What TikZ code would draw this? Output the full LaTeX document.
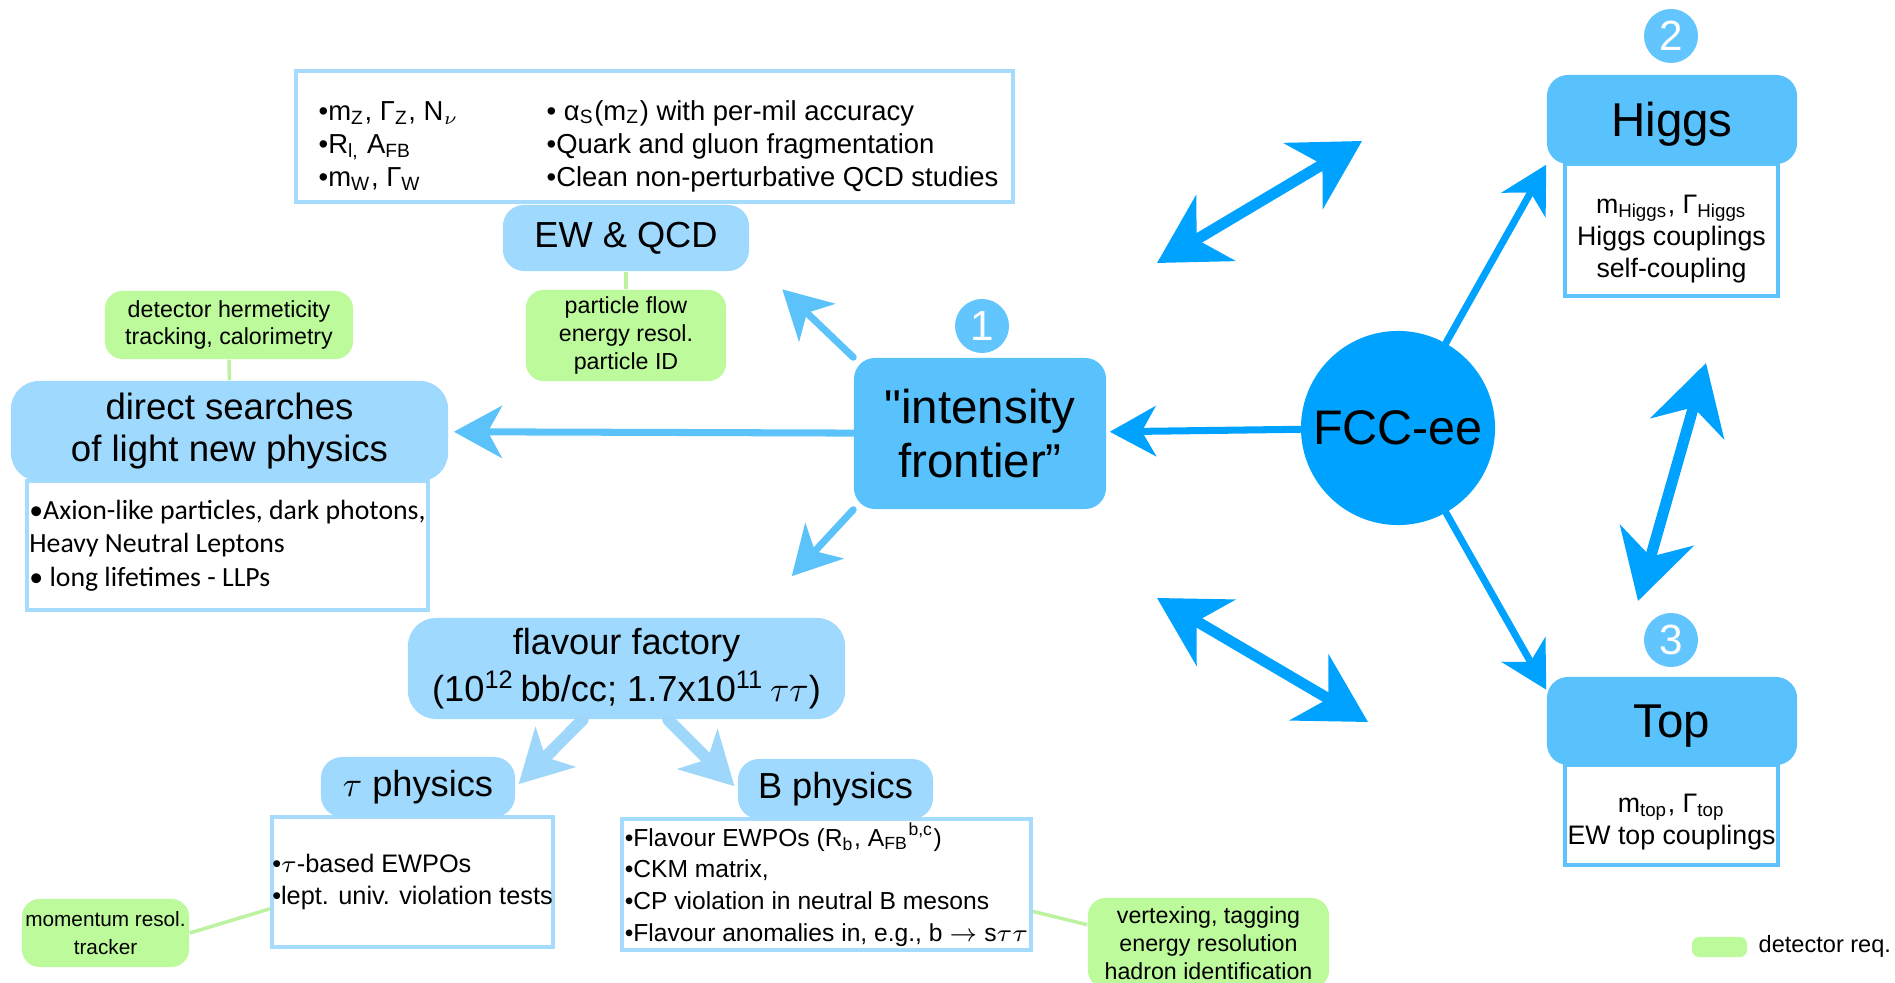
\documentclass[tikz,border=0pt]{standalone}
\usepackage{fontspec}
\setmainfont{Liberation Sans}[Ligatures=TeXOff]
\newfontfamily\calib{Carlito}
\usetikzlibrary{arrows.meta,calc}
\definecolor{hdrlight}{HTML}{9FD9FD}
\definecolor{hdrmid}{HTML}{59C1FC}
\definecolor{fccblue}{HTML}{00A2FF}
\definecolor{numblue}{HTML}{63C5FD}
\definecolor{reqgreen}{HTML}{BDFA9B}
\definecolor{reqline}{HTML}{BDF2A0}
\definecolor{boxline}{HTML}{A5DBFC}
\definecolor{boxlinemid}{HTML}{5EC3FC}
\definecolor{arrmid}{HTML}{5BC2FA}
\definecolor{arrlight}{HTML}{9FD7FA}
\begin{document}
\begin{tikzpicture}[x=0.01cm,y=-0.01cm,
	hdr/.style={rectangle,rounded corners=6pt,fill=hdrlight,inner sep=0pt,align=center,font=\fontsize{10.3}{12.5}\selectfont},
	hdrbig/.style={hdr,fill=hdrmid,font=\fontsize{13.5}{15.4}\selectfont},
	infobox/.style={rectangle,draw=boxline,line width=1pt,fill=white,inner sep=0pt,align=left,font=\fontsize{7}{9}\selectfont},
	subtext/.style={inner sep=0pt,align=center,font=\fontsize{7.6}{9}\selectfont},
	req/.style={rectangle,rounded corners=5pt,fill=reqgreen,inner sep=0pt,align=center,font=\fontsize{6.6}{7.9}\selectfont},
	num/.style={circle,fill=numblue,text=white,minimum size=0.54cm,inner sep=0pt,font=\fontsize{12}{12}\selectfont},
	reqlink/.style={draw=reqline,line width=1pt},
	arrint/.style={-{Stealth[length=0.48cm,width=0.52cm,inset=0.14cm]},line width=2pt,draw=arrmid,line cap=round},
	arrfcc/.style={-{Stealth[length=0.46cm,width=0.5cm,inset=0.14cm]},line width=2pt,draw=fccblue,line cap=round},
	arrflav/.style={-{Stealth[length=0.52cm,width=0.56cm,inset=0.14cm]},line width=3.4pt,draw=arrlight,line cap=round},
	arrboth/.style={{Stealth[length=0.68cm,width=0.76cm,inset=0.22cm]}-{Stealth[length=0.68cm,width=0.76cm,inset=0.22cm]},line width=0.11cm,draw=fccblue,line cap=round}]
		\clip (0,0) rectangle (1895,983);
		
		%EW and QCD
		\node[infobox,minimum width=7.17cm,minimum height=1.31cm](ewbox) at (654.5,136.5) {};
		\node[anchor=west,align=left,inner sep=0pt,font=\fontsize{7.8}{9.4}\selectfont](ewl) at (318,146) {•m\textsubscript{Z}, Γ\textsubscript{Z}, N$_{\nu}$\\•R\textsubscript{l,} A\textsubscript{FB}\\•m\textsubscript{W}, Γ\textsubscript{W}};
		\node[anchor=west,align=left,inner sep=0pt,font=\fontsize{7.8}{9.4}\selectfont](ewr) at (546,146) {• α\textsubscript{S}(m\textsubscript{Z}) with per-mil accuracy\\•Quark and gluon fragmentation\\•Clean non-perturbative QCD studies};
		\node[hdr,minimum width=2.46cm,minimum height=0.66cm](ewqcd) at (626,238) {EW \& QCD};
		\node[req,minimum width=2cm,minimum height=0.91cm](pflow) at (626,335.5) {particle flow\\energy resol.\\particle ID};
		\draw[reqlink] (ewqcd.south) -- (pflow.north);
		
		%direct searches
		\node[req,minimum width=2.48cm,minimum height=0.68cm](herm) at (229,325) {detector hermeticity\\tracking, calorimetry};
		\node[infobox,font=\calib\fontsize{7.9}{9.5}\selectfont,minimum width=4.01cm,minimum height=1.29cm](axion) at (227.5,545.5) {•Axion-like particles, dark photons,\\Heavy Neutral Leptons\\• long lifetimes - LLPs};
		\node[hdr,rounded corners=8pt,minimum width=4.37cm,minimum height=1cm,font=\fontsize{10.4}{12}\selectfont](direct) at (229.5,431) {direct searches\\of light new physics};
		\draw[reqlink] (herm.south) -- (direct.north);
		
		%centre
		\node[hdrbig,minimum width=2.52cm,minimum height=1.51cm](intens) at (980,433.5) {"intensity\\frontier”};
		\node[num](one) at (982,326) {1};
		\node[circle,fill=fccblue,minimum size=1.94cm,inner sep=0pt,font=\fontsize{13.8}{14}\selectfont](fcc) at (1398,428) {FCC-ee};
		
		%Higgs
		\node[infobox,draw=boxlinemid,minimum width=2.13cm,minimum height=1.32cm](higgsbox) at (1671.5,230) {};
		\node[subtext](higgstext) at (1671.5,239) {m\textsubscript{Higgs}, Γ\textsubscript{Higgs}\\Higgs couplings\\self-coupling};
		\node[hdrbig,text depth=0pt,minimum width=2.5cm,minimum height=0.89cm](higgs) at (1672,119.5) {Higgs};
		\node[num](two) at (1671,36) {2};
		
		%Top
		\node[infobox,draw=boxlinemid,minimum width=2.13cm,minimum height=1cm](topbox) at (1671.5,815) {};
		\node[subtext](toptext) at (1671.5,822) {m\textsubscript{top}, Γ\textsubscript{top}\\EW top couplings};
		\node[hdrbig,text depth=0pt,minimum width=2.5cm,minimum height=0.88cm](top) at (1672,721) {Top};
		\node[num](three) at (1671,640) {3};
		
		%flavour
		\node[hdr,rounded corners=8pt,minimum width=4.37cm,minimum height=1.01cm,font=\fontsize{10.3}{13.5}\selectfont](flav) at (626.5,668.5) {flavour factory\\(10\textsuperscript{12}\,bb/cc; 1.7x10\textsuperscript{11}\,$\tau\tau$)};
		\node[infobox,font=\fontsize{7.2}{9.1}\selectfont,minimum width=2.81cm,minimum height=1.3cm](taubox) at (412.5,882) {•$\tau$-based EWPOs\\•lept. univ. violation tests};
		\node[hdr,minimum width=1.94cm,minimum height=0.6cm](tau) at (418,787) {$\tau$ physics};
		\node[infobox,minimum width=4.09cm,minimum height=1.31cm](bbox) at (826.5,884.5) {•Flavour EWPOs (R\textsubscript{b}, A\textsubscript{FB}\textsuperscript{b,c})\\•CKM matrix,\\•CP violation in neutral B mesons\\•Flavour anomalies in, e.g., b $\rightarrow$ s$\tau\tau$};
		\node[hdr,minimum width=1.95cm,minimum height=0.6cm](bphys) at (835.5,789) {B physics};
		
		%detector req.
		\node[req,font=\fontsize{5.9}{7.9}\selectfont,minimum width=1.67cm,minimum height=0.68cm](momres) at (105.5,933) {momentum resol.\\tracker};
		\node[req,minimum width=2.41cm,minimum height=0.9cm](vertex) at (1208.5,943) {vertexing, tagging\\energy resolution\\hadron identification};
		\draw[reqlink] (momres.east) -- ($(taubox.west)!.4!(taubox.south west)$);
		\draw[reqlink] ($(bbox.east)!.4!(bbox.south east)$) -- ($(vertex.north west)!.6!(vertex.west)$);
		
		%legend
		\node[fill=reqgreen,rounded corners=2pt,minimum width=0.55cm,minimum height=0.2cm,inner sep=0pt](legkey) at (1719.5,947) {};
		\node[anchor=west,inner sep=0pt,font=\fontsize{6.7}{8}\selectfont](legtext) at (1758,946) {detector req.};
		
		%arrows
		\draw[arrint,shorten >=0.05cm] (intens) -- (direct);
		\draw[arrint,shorten >=0.45cm] (intens.north west) -- ($(ewqcd.east)!.6!(ewqcd.south east)$);
		\draw[arrint,shorten >=0.56cm] (intens.south west) -- ($(flav.north)!.58!(flav.north east)$);
		\draw[arrfcc,shorten >=0.03cm] (fcc) -- (intens);
		\draw[arrfcc] (fcc) -- (higgs.south west);
		\draw[arrfcc] (fcc) -- ($(top.north west)!.3!(top.west)$);
		\draw[arrflav,shorten >=0.04cm] ($(flav.south west)!.4!(flav.south east)$) -- (tau.east);
		\draw[arrflav,shorten >=0.04cm] ($(flav.south west)!.595!(flav.south east)$) -- (bphys.west);
		
		%double arrows
		\coordinate (ha) at (1157,263);
		\coordinate (hb) at (1362,141);
		\coordinate (ta) at (1157,598);
		\coordinate (tb) at (1368,722);
		\coordinate (va) at (1706,363);
		\coordinate (vb) at (1638,601);
		\draw[arrboth] (ha) -- (hb);
		\draw[arrboth] (ta) -- (tb);
		\draw[arrboth] (va) -- (vb);
\end{tikzpicture}
\end{document}
